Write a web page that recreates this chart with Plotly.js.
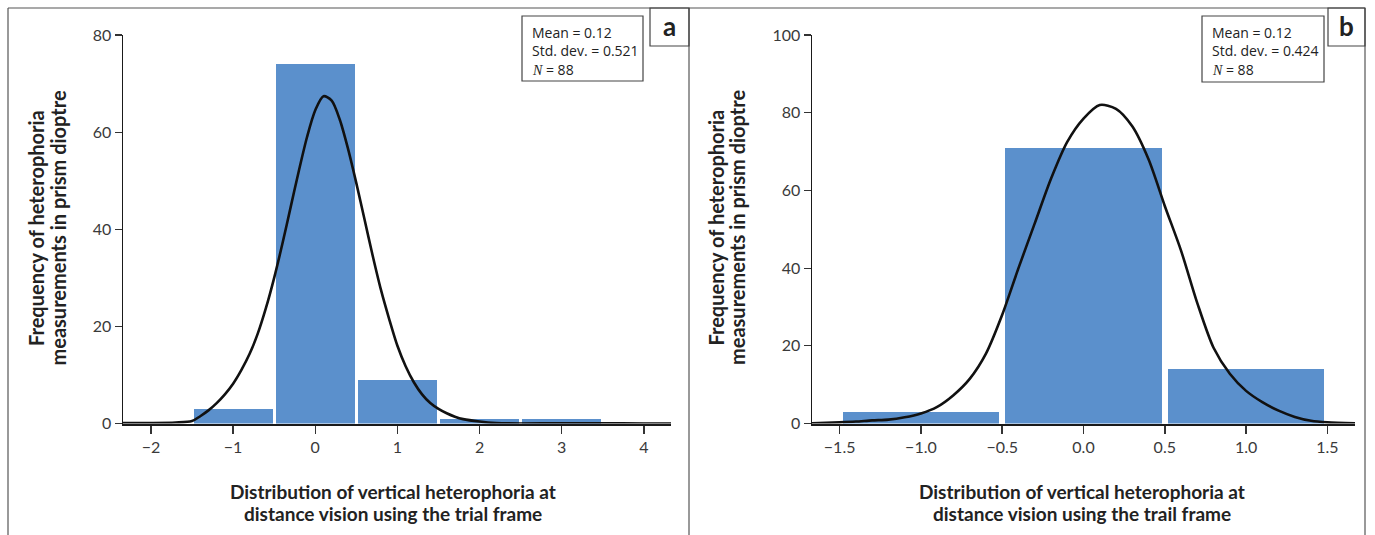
<!DOCTYPE html>
<html>
<head>
<meta charset="utf-8">
<script src="https://cdn.plot.ly/plotly-3.0.1.min.js"></script>
<style>html,body{margin:0;padding:0;background:#fff;}#chart{width:1375px;height:535px;}</style>
</head>
<body>
<div id="chart"></div>
<script>
// ---------- data ----------
const binsA = [-1, 0, 1, 2, 3];
const countsA = [3, 74, 9, 1, 1];
const curveAx = [-2.34, -2.0, -1.7, -1.5, -1.4, -1.3, -1.2, -1.1, -1.0, -0.9, -0.8, -0.7, -0.6, -0.5, -0.4, -0.3, -0.2, -0.1, 0.0, 0.1, 0.2, 0.3, 0.4, 0.5, 0.6, 0.7, 0.8, 0.9, 1.0, 1.1, 1.2, 1.3, 1.4, 1.5, 1.6, 1.7, 1.8, 2.0, 2.2, 2.5, 3.0, 3.5, 4.0, 4.33];
const curveAy = [0.1, 0.1, 0.2, 0.5, 1.5, 2.7, 4.2, 6.0, 8.2, 11.0, 14.3, 18.5, 23.8, 30.0, 37.0, 44.5, 52.0, 59.0, 64.5, 67.4, 66.5, 62.5, 56.5, 49.5, 42.0, 34.5, 27.5, 21.5, 16.0, 11.8, 8.5, 6.0, 4.2, 3.0, 2.1, 1.4, 0.9, 0.4, 0.1, 0.0, 0.05, 0.05, 0.0, 0.0];
const xTicksA = [-2, -1, 0, 1, 2, 3, 4];
const yTicksA = [0, 20, 40, 60, 80];

const binsB = [-1, 0, 1];
const countsB = [3, 71, 14];
const curveBx = [-1.67, -1.5, -1.4, -1.3, -1.2, -1.1, -1.0, -0.9, -0.8, -0.7, -0.6, -0.5, -0.4, -0.3, -0.2, -0.1, 0.0, 0.1, 0.2, 0.3, 0.4, 0.5, 0.6, 0.7, 0.8, 0.9, 1.0, 1.1, 1.2, 1.3, 1.4, 1.5, 1.67];
const curveBy = [0.05, 0.3, 0.5, 0.8, 1.0, 1.6, 2.6, 4.3, 7.3, 11.5, 18.0, 28.0, 40.0, 51.5, 63.0, 72.5, 78.5, 82.0, 81.0, 76.5, 68.0, 56.0, 44.5, 31.0, 19.5, 12.8, 8.4, 5.5, 3.3, 1.7, 0.7, 0.3, 0.05];
const xTicksB = [-1.5, -1.0, -0.5, 0.0, 0.5, 1.0, 1.5];
const xTickTextB = ['\u22121.5', '\u22121.0', '\u22120.5', '0.0', '0.5', '1.0', '1.5'];
const yTicksB = [0, 20, 40, 60, 80, 100];

const statsA = ['Mean = 0.12', 'Std. dev. = 0.521', '<i style="font-family:\'Liberation Serif\'">N</i> = 88'];
const statsB = ['Mean = 0.12', 'Std. dev. = 0.424', '<i style="font-family:\'Liberation Serif\'">N</i> = 88'];
const yTitleLines = ['Frequency of heterophoria', 'measurements in prism dioptre'];
const xTitleLinesA = ['Distribution of vertical heterophoria at', 'distance vision using the trial frame'];
const xTitleLinesB = ['Distribution of vertical heterophoria at', 'distance vision using the trail frame'];

// ---------- layout helpers (pixel -> paper, margins are zero) ----------
const W = 1375, H = 535;
const px = v => v / W;
const py = v => 1 - v / H;

const BAR = '#5b90cc';
const FONT = 'Lato, "Open Sans", sans-serif';
const tickFont = {family: FONT, size: 16, color: '#3a3a3a'};
const titleFont = {family: FONT, size: 19, color: '#222'};
const yTitleFont = {family: FONT, size: 20, color: '#222'};

const curveLine = {color: '#111', width: 2.6, shape: 'spline', smoothing: 0.8};
const traces = [
  {type: 'bar', x: binsA, y: countsA, width: 0.96, marker: {color: BAR, line: {width: 0}}, xaxis: 'x', yaxis: 'y'},
  {type: 'scatter', mode: 'lines', x: curveAx, y: curveAy, line: curveLine, xaxis: 'x', yaxis: 'y'},
  {type: 'bar', x: binsB, y: countsB, width: 0.96, marker: {color: BAR, line: {width: 0}}, xaxis: 'x2', yaxis: 'y2'},
  {type: 'scatter', mode: 'lines', x: curveBx, y: curveBy, line: curveLine, xaxis: 'x2', yaxis: 'y2'}
];

const xBase = {showgrid: false, zeroline: false, showline: true, linecolor: '#1a1a1a', linewidth: 2,
  ticks: 'outside', ticklen: 8, tickwidth: 1.5, tickcolor: '#333', tickfont: tickFont, fixedrange: true};
const yBase = {showgrid: false, zeroline: false, showline: true, linecolor: '#1a1a1a', linewidth: 1.5,
  ticks: 'outside', ticklen: 7, tickwidth: 1.2, tickcolor: '#333', tickfont: tickFont, fixedrange: true};
const yDom = [py(423.5), py(35)];

const lineColor = '#555';
function seg(x0, y0, x1, y1) {
  return {type: 'line', xref: 'paper', yref: 'paper', x0: px(x0), y0: py(y0), x1: px(x1), y1: py(y1), line: {color: lineColor, width: 1.2}};
}
function rect(x0, y0, x1, y1) {
  return {type: 'rect', xref: 'paper', yref: 'paper', x0: px(x0), y0: py(y0), x1: px(x1), y1: py(y1), line: {color: '#444', width: 1.2}, fillcolor: 'rgba(0,0,0,0)'};
}
function note(text, x, y, opts) {
  return Object.assign({xref: 'paper', yref: 'paper', x: px(x), y: py(y), text: text, showarrow: false,
    font: titleFont, xanchor: 'center', yanchor: 'middle'}, opts || {});
}

const shapes = [
  seg(8, 8, 1365, 8), seg(8, 8, 8, 535), seg(689, 8, 689, 535), seg(1365, 8, 1365, 535),
  rect(650, 8, 689, 46), rect(1328, 8, 1365, 46),
  rect(522, 16, 643, 81), rect(1202, 16, 1324, 82)
];

const annotations = [];
[[statsA, 530], [statsB, 1210]].forEach(([lines, x0]) => {
  [32, 50.5, 69].forEach((yy, i) => annotations.push(note(lines[i], x0, yy, {xanchor: 'left', font: {family: '"Open Sans", sans-serif', size: 14, color: '#222'}})));
});
annotations.push(note('<b>a</b>', 669.5, 26, {font: {family: FONT, size: 26, color: '#222'}}));
annotations.push(note('<b>b</b>', 1346.5, 26, {font: {family: FONT, size: 26, color: '#222'}}));
[[36, 57.5], [715.5, 737]].forEach(xs => {
  yTitleLines.forEach((t, i) => annotations.push(note('<b>' + t + '</b>', xs[i], 228, {textangle: -90, font: yTitleFont})));
});
[[xTitleLinesA, 393], [xTitleLinesB, 1082]].forEach(([lines, cx]) => {
  lines.forEach((t, i) => annotations.push(note('<b>' + t + '</b>', cx, [491, 513][i])));
});

const layout = {
  width: W, height: H,
  margin: {l: 0, r: 0, t: 0, b: 0, pad: 0},
  paper_bgcolor: '#fff', plot_bgcolor: '#fff',
  showlegend: false, bargap: 0,
  xaxis: Object.assign({}, xBase, {domain: [px(123), px(671)], range: [-2.34, 4.33], tickvals: xTicksA, anchor: 'y'}),
  yaxis: Object.assign({}, yBase, {domain: yDom, range: [0, 80], tickvals: yTicksA, anchor: 'x'}),
  xaxis2: Object.assign({}, xBase, {domain: [px(812), px(1355)], range: [-1.67, 1.67], tickvals: xTicksB, ticktext: xTickTextB, anchor: 'y2'}),
  yaxis2: Object.assign({}, yBase, {domain: yDom, range: [0, 100], tickvals: yTicksB, anchor: 'x2'}),
  shapes: shapes,
  annotations: annotations
};

Plotly.newPlot('chart', traces, layout, {displayModeBar: false, staticPlot: true});
</script>
</body>
</html>
